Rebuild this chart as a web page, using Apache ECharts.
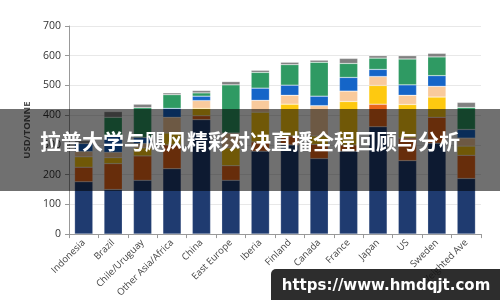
<!DOCTYPE html>
<html>
<head>
<meta charset="utf-8">
<script src="https://cdn.jsdelivr.net/npm/echarts@6/dist/echarts.min.js"></script>
<style>
  html, body { margin: 0; padding: 0; background: #fff; }
  #chart { width: 500px; height: 300px; }
</style>
</head>
<body>
<div id="chart"></div>
<script>
var categories = ['Indonesia', 'Brazil', 'Chile/Uruguay', 'Other Asia/Africa', 'China', 'East Europe',
    'Iberia', 'Finland', 'Canada', 'France', 'Japan', 'US', 'Sweden', 'Weighted Ave'];

// stacked cost components, bottom to top (USD/tonne)
var navyVals   = [176, 150, 181, 220, 385, 181, 279, 300, 254, 279, 361, 247, 306, 187];
var orangeVals = [ 49,  87,  82,  80,  13,  49,  31,  30,  48,  21,  76,  76,  87,  78];
var yellowVals = [ 35,  20,  27,  40,  25,  60, 100, 107,  28, 146,  63, 113,  68,  31];
var peachVals  = [ 18,  18,  15,  53,  26,  50,  40,  30, 102,  35,  30,  31,  36,  27];
var blueVals   = [ 27,  55,  20,  30,  15,   0,  41,  34,  32,  46,  24,  35,  36,  29];
var greenVals  = [  0,  63, 100,  46,  11, 162,  53,  69, 114,  47,  38,  87,  63,  74];
var greyVals   = [  9,  19,  12,   6,   8,  11,   7,   8,   7,  17,   8,  11,  12,  17];

var yTicks = [0, 100, 200, 300, 400, 500, 600, 700];

var layers = [
    {name: 'Wood', data: navyVals, color: '#1f3b70'},
    {name: 'Chemicals', data: orangeVals, color: '#eb661a'},
    {name: 'Energy', data: yellowVals, color: '#fec910'},
    {name: 'Labour', data: peachVals, color: '#f9ca9c'},
    {name: 'Maintenance', data: blueVals, color: '#1565c8'},
    {name: 'Other', data: greenVals, color: '#2f9a63'},
    {name: 'Delivery', data: greyVals, color: '#808080'}
];

var series = [];
for (var i = 0; i < layers.length; i++) {
    series.push({
        name: layers[i].name,
        type: 'bar',
        stack: 'cost',
        barWidth: '62%',
        data: layers[i].data,
        itemStyle: {
            color: layers[i].color,
            borderColor: 'rgba(255,255,255,0.45)',
            borderWidth: 0.5
        }
    });
}

var myChart = echarts.init(document.getElementById('chart'));
var option = {
    animation: false,
    grid: {left: 69, right: 19, top: 26, bottom: 59},
    xAxis: {
        type: 'category',
        data: categories,
        axisLine: {lineStyle: {color: '#999'}},
        axisTick: {show: true, length: 4, lineStyle: {color: '#999'}},
        axisLabel: {
            rotate: 45,
            interval: 0,
            margin: 7,
            fontSize: 9.5,
            color: '#444',
            fontFamily: 'Open Sans'
        }
    },
    yAxis: {
        type: 'value',
        min: yTicks[0],
        max: yTicks[yTicks.length - 1],
        interval: 100,
        name: 'USD/TONNE',
        nameLocation: 'middle',
        nameGap: 35,
        nameTextStyle: {fontSize: 9.5, fontWeight: 'bold', color: '#555', fontFamily: 'Open Sans'},
        axisLine: {show: true, lineStyle: {color: '#999'}},
        axisTick: {show: true, length: 4, lineStyle: {color: '#999'}},
        axisLabel: {fontSize: 10.5, color: '#333', margin: 8, fontFamily: 'Open Sans'},
        splitLine: {lineStyle: {color: '#e8e8e8'}}
    },
    series: series,
    graphic: [
        {
            type: 'rect',
            z: 100,
            shape: {x: 0, y: 109, width: 500, height: 82},
            style: {fill: 'rgba(0,0,0,0.56)'}
        },
        {
            type: 'text',
            z: 101,
            x: 250,
            y: 141,
            style: {
                text: '拉普大学与飓风精彩对决直播全程回顾与分析',
                fill: '#fff',
                fontSize: 21,
                fontWeight: 'bold',
                fontFamily: 'Noto Sans CJK SC',
                align: 'center',
                verticalAlign: 'middle'
            }
        },
        {
            type: 'rect',
            z: 100,
            shape: {x: 271, y: 269, width: 240, height: 40, r: 5},
            style: {fill: 'rgba(22,22,22,0.9)'}
        },
        {
            type: 'text',
            z: 101,
            x: 386,
            y: 286,
            style: {
                text: 'https://www.hmdqjt.com',
                fill: '#fff',
                fontSize: 15,
                fontWeight: 'bold',
                fontFamily: 'DejaVu Sans',
                align: 'center',
                verticalAlign: 'middle'
            }
        }
    ]
};
myChart.setOption(option);
</script>
</body>
</html>
